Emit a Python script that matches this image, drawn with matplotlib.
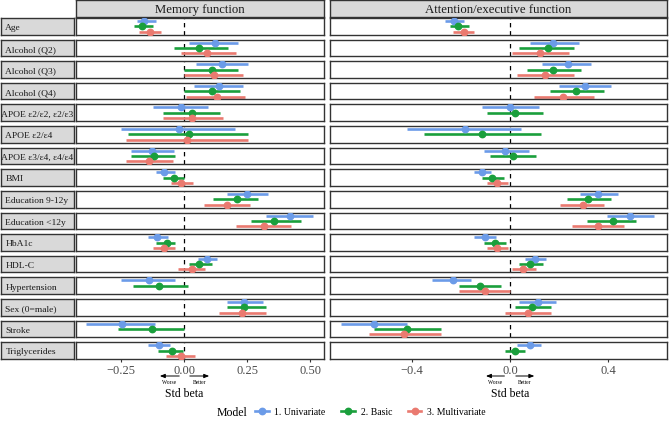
import numpy as np
import matplotlib.pyplot as plt
from matplotlib.lines import Line2D
from matplotlib.transforms import blended_transform_factory

plt.rcParams['font.family'] = ['Liberation Serif', 'DejaVu Serif']

# Row variables (top to bottom)
variables = ["Age", "Alcohol (Q2)", "Alcohol (Q3)", "Alcohol (Q4)",
             "APOE ε2/ε2, ε2/ε3", "APOE ε2/ε4", "APOE ε3/ε4, ε4/ε4", "BMI",
             "Education 9-12y", "Education <12y", "HbA1c", "HDL-C",
             "Hypertension", "Sex (0=male)", "Stroke", "Triglycerides"]
nan = np.nan

# Memory function: estimate, lower, upper for each model
mem_uni_est = [-0.159, 0.122, 0.149, 0.139, -0.011, -0.020, -0.130, -0.081, 0.249, 0.418, -0.110, 0.089, -0.139, 0.238, -0.249, -0.099]
mem_uni_lo  = [-0.189, 0.017, 0.046, 0.037, -0.123, -0.253, -0.212, -0.112, 0.168, 0.324, -0.143, 0.056, -0.253, 0.168, -0.392, -0.143]
mem_uni_hi  = [-0.114, 0.212, 0.253, 0.233, 0.093, 0.202, -0.040, -0.038, 0.331, 0.512, -0.066, 0.132, -0.037, 0.312, -0.116, -0.057]
mem_bas_est = [-0.167, 0.060, 0.110, 0.110, 0.029, 0.020, -0.120, -0.041, 0.209, 0.356, -0.070, 0.060, -0.099, 0.238, -0.130, -0.050]
mem_bas_lo  = [-0.198, -0.042, 0.000, 0.000, -0.083, -0.222, -0.213, -0.083, 0.116, 0.266, -0.112, 0.019, -0.202, 0.168, -0.262, -0.103]
mem_bas_hi  = [-0.124, 0.172, 0.212, 0.222, 0.143, 0.253, -0.037, 0.000, 0.291, 0.462, -0.037, 0.112, 0.013, 0.323, 0.000, -0.007]
mem_mul_est = [-0.136, 0.090, 0.119, 0.130, 0.029, 0.009, -0.139, -0.011, 0.169, 0.317, -0.081, 0.029, nan, 0.229, nan, -0.011]
mem_mul_lo  = [-0.179, -0.013, 0.000, 0.007, -0.083, -0.233, -0.231, -0.054, 0.077, 0.205, -0.123, -0.024, nan, 0.136, nan, -0.073]
mem_mul_hi  = [-0.094, 0.204, 0.233, 0.242, 0.152, 0.253, -0.046, 0.033, 0.262, 0.422, -0.037, 0.083, nan, 0.323, nan, 0.042]

# Attention/executive function
att_uni_est = [-0.231, 0.174, 0.235, 0.307, 0.000, -0.185, -0.020, -0.113, 0.358, 0.491, -0.102, 0.102, -0.235, 0.113, -0.554, 0.082]
att_uni_lo  = [-0.265, 0.079, 0.129, 0.201, -0.116, -0.422, -0.106, -0.146, 0.283, 0.396, -0.146, 0.059, -0.320, 0.038, -0.690, 0.030]
att_uni_hi  = [-0.188, 0.279, 0.331, 0.412, 0.117, 0.044, 0.076, -0.079, 0.442, 0.586, -0.059, 0.147, -0.161, 0.186, -0.419, 0.125]
att_bas_est = [-0.211, 0.154, 0.174, 0.267, 0.020, -0.113, 0.010, -0.072, 0.317, 0.420, -0.061, 0.082, -0.122, 0.091, -0.419, 0.020]
att_bas_lo  = [-0.245, 0.038, 0.068, 0.161, -0.095, -0.350, -0.084, -0.116, 0.233, 0.314, -0.106, 0.038, -0.207, 0.018, -0.556, -0.023]
att_bas_hi  = [-0.166, 0.260, 0.290, 0.382, 0.136, 0.125, 0.105, -0.027, 0.412, 0.514, -0.018, 0.136, -0.038, 0.166, -0.284, 0.061]
att_mul_est = [-0.190, 0.122, 0.143, 0.215, nan, nan, nan, -0.052, 0.297, 0.358, -0.052, 0.052, -0.102, 0.071, -0.433, nan]
att_mul_lo  = [-0.235, 0.007, 0.027, 0.099, nan, nan, nan, -0.095, 0.204, 0.253, -0.095, 0.007, -0.208, -0.023, -0.577, nan]
att_mul_hi  = [-0.146, 0.239, 0.260, 0.341, nan, nan, nan, -0.007, 0.382, 0.464, -0.007, 0.105, 0.000, 0.166, -0.284, nan]

panels = ["Memory function", "Attention/executive function"]
models = ["1. Univariate", "2. Basic", "3. Multivariate"]
colors = ["#6b9be8", "#1a9f3c", "#ea7a70"]

data = [
    [(mem_uni_est, mem_uni_lo, mem_uni_hi), (mem_bas_est, mem_bas_lo, mem_bas_hi), (mem_mul_est, mem_mul_lo, mem_mul_hi)],
    [(att_uni_est, att_uni_lo, att_uni_hi), (att_bas_est, att_bas_lo, att_bas_hi), (att_mul_est, att_mul_lo, att_mul_hi)],
]
xlims = [(-0.43, 0.555), (-0.735, 0.64)]
xticks = [[-0.25, 0.0, 0.25, 0.5], [-0.4, 0.0, 0.4]]
xticklabels = [["−0.25", "0.00", "0.25", "0.50"], ["−0.4", "0.0", "0.4"]]

W, H = 669, 431
fig = plt.figure(figsize=(W/100, H/100), dpi=100)

def box(x0, y0, x1, y1):
    return [x0/W, 1 - y1/H, (x1 - x0)/W, (y1 - y0)/H]

edge = "#333333"
strip = "#d9d9d9"
px = [(76, 324), (330, 667)]
n = len(variables)
pitch = 21.62
rh = 16.6
offsets = [0.4, 0.0, -0.4]

# column strips
for j, name in enumerate(panels):
    sa = fig.add_axes(box(px[j][0], 0.5, px[j][1], 18))
    sa.set_facecolor(strip)
    sa.set_xticks([]); sa.set_yticks([])
    for s in sa.spines.values():
        s.set_color(edge); s.set_linewidth(1.0)
    sa.text(0.5, 0.45, name, ha='center', va='center', fontsize=9.2, color='#1a1a1a', transform=sa.transAxes)

bottom_axes = []
for i, var in enumerate(variables):
    top = 19 + i * pitch
    # row strip
    la = fig.add_axes(box(1, top, 74, top + rh))
    la.set_facecolor(strip)
    la.set_xticks([]); la.set_yticks([])
    for s in la.spines.values():
        s.set_color(edge); s.set_linewidth(1.0)
    wide = len(var) >= 17
    la.text(0.5 if wide else 0.06, 0.45, var, ha='center' if wide else 'left',
            va='center', fontsize=6.8, color='#1a1a1a', transform=la.transAxes)
    for j in range(2):
        ax = fig.add_axes(box(px[j][0], top, px[j][1], top + rh))
        ax.set_xlim(*xlims[j])
        ax.set_ylim(-0.62, 0.62)
        ax.axvline(0, color='black', ls=(0, (3.5, 3)), lw=0.9, zorder=1)
        for k in range(3):
            est, lo, hi = data[j][k]
            if np.isnan(est[i]):
                continue
            y = offsets[k]
            ax.plot([lo[i], hi[i]], [y, y], color=colors[k], lw=1.9, solid_capstyle='butt', zorder=2)
            ax.plot(est[i], y, 'o', color=colors[k], ms=4.6, zorder=3)
        ax.set_yticks([])
        for s in ax.spines.values():
            s.set_color(edge); s.set_linewidth(1.0)
        if i == n - 1:
            ax.set_xticks(xticks[j])
            ax.set_xticklabels(xticklabels[j], fontsize=9, color='#4d4d4d')
            ax.tick_params(axis='x', length=2, color=edge, pad=1.5)
            bottom_axes.append(ax)
        else:
            ax.set_xticks([])

# Worse / Better arrows and axis label
arrow_ends = [(-0.009, -0.108, 0.011, 0.110), (-0.012, -0.110, 0.012, 0.110)]
for j, ax in enumerate(bottom_axes):
    tr = blended_transform_factory(ax.transData, fig.transFigure)
    a0, a1, b0, b1 = arrow_ends[j]
    ya = 1 - 377/H
    ax.annotate('', xy=(a1, ya), xytext=(a0, ya), xycoords=tr, textcoords=tr,
                arrowprops=dict(arrowstyle='-|>,head_length=0.3,head_width=0.12', color='black', lw=0.7),
                annotation_clip=False)
    ax.annotate('', xy=(b1, ya), xytext=(b0, ya), xycoords=tr, textcoords=tr,
                arrowprops=dict(arrowstyle='-|>,head_length=0.3,head_width=0.12', color='black', lw=0.7),
                annotation_clip=False)
    ax.text((a0 + a1) / 2, 1 - 383/H, "Worse", transform=tr, ha='center', va='center', fontsize=4)
    ax.text((b0 + b1) / 2, 1 - 383/H, "Better", transform=tr, ha='center', va='center', fontsize=4)
    ax.text(0, 1 - 394/H, "Std beta", transform=tr, ha='center', va='center', fontsize=8.5)

# legend
fig.text(217/W, 1 - 413/H, "Model", ha='left', va='center', fontsize=8.5)
handles = [Line2D([0], [0], color=c, lw=1.9, marker='o', ms=4.6) for c in colors]
fig.legend(handles, models, loc='center left', bbox_to_anchor=(255/W, 1 - 413/H), ncol=3,
           frameon=False, fontsize=7, handlelength=1.4, handletextpad=0.6, columnspacing=1.6,
           borderaxespad=0, borderpad=0)

fig.savefig("out.png", dpi=100)
